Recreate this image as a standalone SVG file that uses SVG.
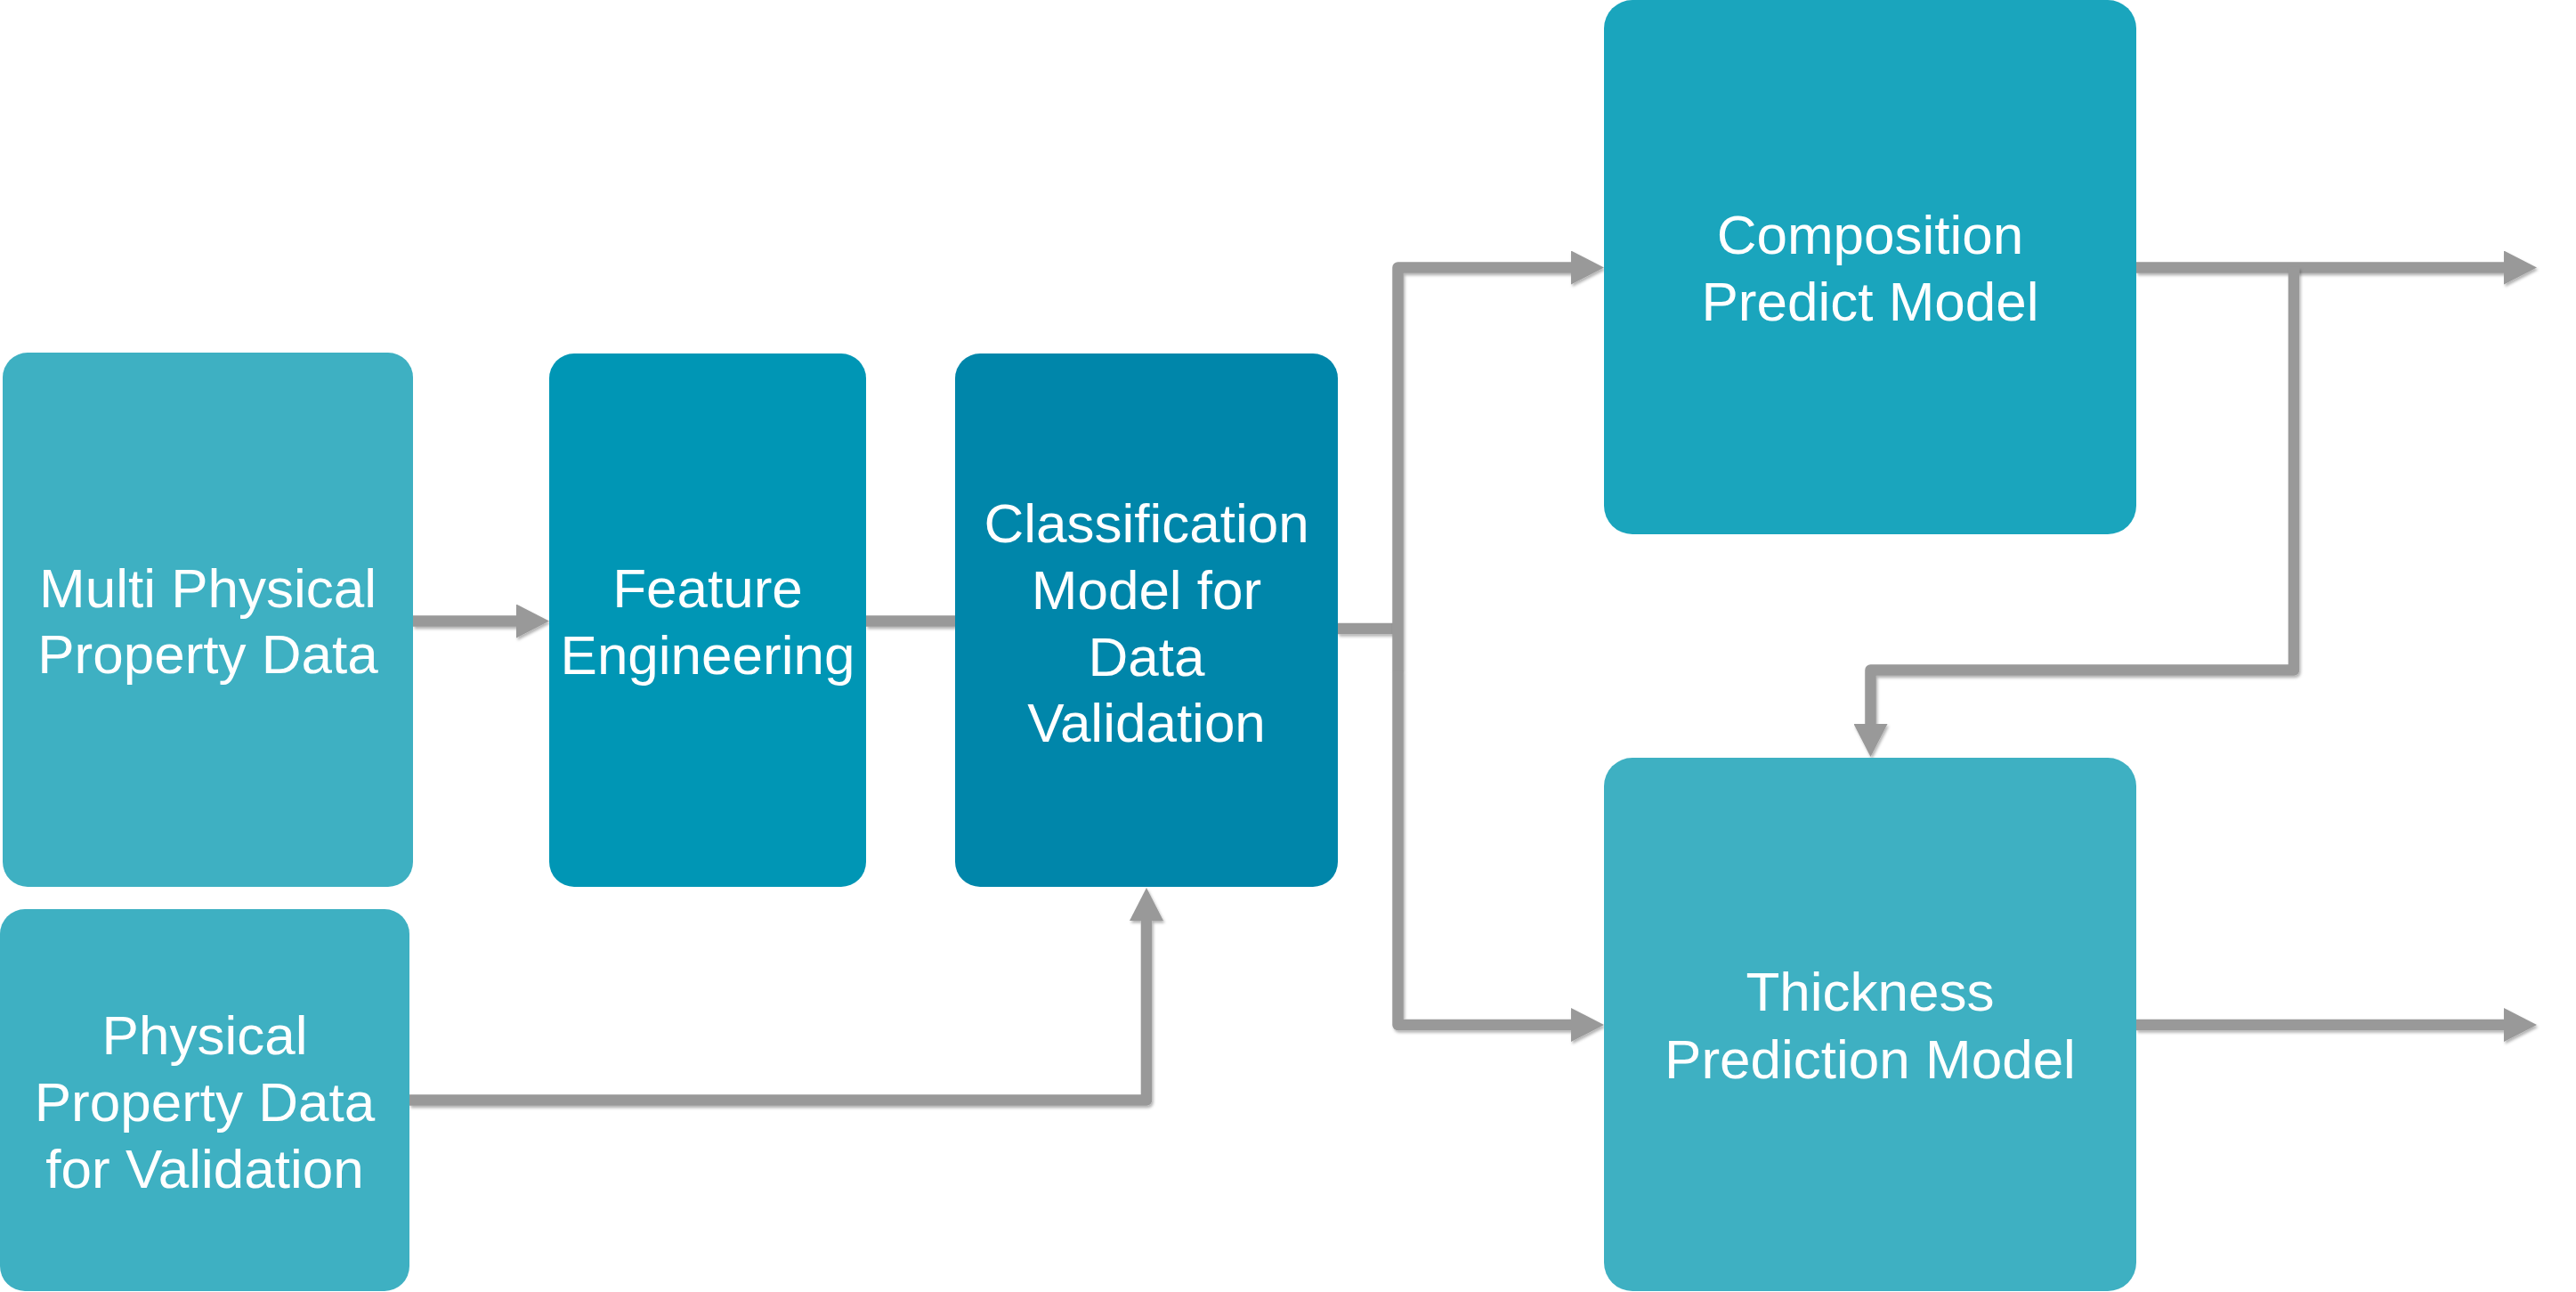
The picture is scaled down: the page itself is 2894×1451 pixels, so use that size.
<svg xmlns="http://www.w3.org/2000/svg" width="2894" height="1451" viewBox="0 0 2894 1451">
  <defs>
    <style>
      .node-text { font-family: "Liberation Sans", Arial, sans-serif; font-size: 62px; fill: #ffffff; text-anchor: middle; }
      .link { fill: none; stroke: #999999; stroke-width: 12.5; stroke-linejoin: round; filter: url(#lineShadow); }
      .light { fill: #3EB0C2; }
      .feature { fill: #0096B5; }
      .classify { fill: #0086AA; }
      .compose { fill: #1AA5BD; }
    </style>
    <!-- user-space region so straight (zero-height) lines keep rendering -->
    <filter id="lineShadow" filterUnits="userSpaceOnUse" x="0" y="0" width="2894" height="1451">
      <feDropShadow dx="1.5" dy="2.5" stdDeviation="1.5" flood-color="#000000" flood-opacity="0.3"/>
    </filter>
    <marker id="arrowHead" markerUnits="userSpaceOnUse" markerWidth="38" markerHeight="38" refX="7" refY="19" orient="auto" viewBox="0 0 38 38">
      <path d="M0,0 L37,19 L0,38 Z" fill="#999999"/>
    </marker>
  </defs>

  <!-- connectors -->
  <g id="connectors">
    <path class="link" d="M464,697.5 H587" marker-end="url(#arrowHead)"/>
    <path class="link" d="M973,697.5 H1073"/>
    <path class="link" d="M1503,706 H1570.5"/>
    <path class="link" d="M1570.5,753 V300.5 H1772" marker-end="url(#arrowHead)"/>
    <path class="link" d="M1570.5,753 V1151 H1772" marker-end="url(#arrowHead)"/>
    <path class="link" d="M2400,300.5 H2820" marker-end="url(#arrowHead)"/>
    <path class="link" d="M2577,300.5 V752.5 H2101.5 V820" marker-end="url(#arrowHead)"/>
    <path class="link" d="M2400,1151 H2820" marker-end="url(#arrowHead)"/>
    <path class="link" d="M460,1235.5 H1288 V1027" marker-end="url(#arrowHead)"/>
  </g>

  <!-- nodes -->
  <g id="multi-physical-property-data">
    <rect class="light" x="3" y="396" width="461" height="600" rx="28" ry="28"/>
    <text class="node-text" x="233.5" y="682">Multi Physical</text>
    <text class="node-text" x="233.5" y="756">Property Data</text>
  </g>

  <g id="feature-engineering">
    <rect class="feature" x="617" y="397" width="356" height="599" rx="28" ry="28"/>
    <text class="node-text" x="795" y="682">Feature</text>
    <text class="node-text" x="795" y="757">Engineering</text>
  </g>

  <g id="classification-model">
    <rect class="classify" x="1073" y="397" width="430" height="599" rx="28" ry="28"/>
    <text class="node-text" x="1288" y="609">Classification</text>
    <text class="node-text" x="1288" y="684">Model for</text>
    <text class="node-text" x="1288" y="759">Data</text>
    <text class="node-text" x="1288" y="833">Validation</text>
  </g>

  <g id="physical-property-validation">
    <rect class="light" x="0" y="1021" width="460" height="429" rx="28" ry="28"/>
    <text class="node-text" x="230" y="1184">Physical</text>
    <text class="node-text" x="230" y="1259">Property Data</text>
    <text class="node-text" x="230" y="1334">for Validation</text>
  </g>

  <g id="composition-predict-model">
    <rect class="compose" x="1802" y="0" width="598" height="600" rx="32" ry="32"/>
    <text class="node-text" x="2101" y="285">Composition</text>
    <text class="node-text" x="2101" y="360">Predict Model</text>
  </g>

  <g id="thickness-prediction-model">
    <rect class="light" x="1802" y="851" width="598" height="599" rx="32" ry="32"/>
    <text class="node-text" x="2101" y="1135">Thickness</text>
    <text class="node-text" x="2101" y="1211">Prediction Model</text>
  </g>
</svg>
